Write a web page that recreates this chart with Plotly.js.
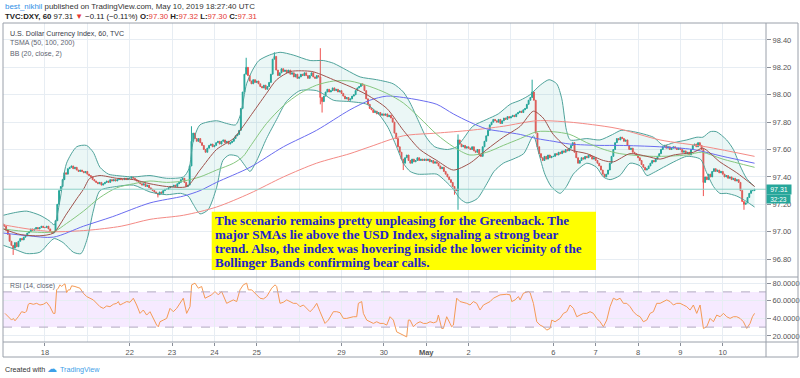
<!DOCTYPE html>
<html><head><meta charset="utf-8">
<script src="https://cdn.plot.ly/plotly-3.0.1.min.js"></script>
<style>html,body{margin:0;padding:0;background:#fff;}#chart{width:800px;height:378px;}</style>
</head><body><div id="chart"></div>
<script>
// ---- time axis: x = trading-day index (0 = Apr 17) + hour/24 ----
const dayTickVals = [1, 3, 4, 5, 6, 8, 9, 10, 11, 13, 14, 15, 16, 17];
const dayTickText = ['18', '22', '23', '24', '25', '29', '30', '<b>May</b>', '2', '6', '7', '8', '9', '10'];
const unlabeledDays = [2, 7, 12];

// ---- hourly closes (24 per trading day, last day to 18:00) ----
const firstOpen = 97.06;
const closes = [
 97.05,97.04,97.01,96.98,96.93,96.90,96.88,96.92,96.89,96.93,96.95,96.94,96.96,96.97,96.99,97.00,97.02,97.01,97.02,97.03,97.02,97.03,97.04,97.03,
 97.03,97.04,97.02,97.00,96.99,97.00,97.08,97.20,97.30,97.33,97.38,97.43,97.42,97.46,97.47,97.48,97.46,97.47,97.45,97.44,97.45,97.44,97.43,97.44,
 97.42,97.41,97.40,97.38,97.37,97.36,97.35,97.36,97.34,97.35,97.36,97.37,97.36,97.38,97.37,97.38,97.37,97.38,97.39,97.38,97.38,97.39,97.38,97.39,
 97.39,97.40,97.39,97.38,97.37,97.36,97.35,97.34,97.35,97.33,97.34,97.32,97.31,97.30,97.29,97.28,97.27,97.29,97.28,97.30,97.31,97.31,97.32,97.33,
 97.33,97.34,97.33,97.35,97.36,97.38,97.39,97.36,97.33,97.34,97.48,97.66,97.72,97.68,97.66,97.68,97.65,97.63,97.60,97.58,97.61,97.63,97.64,97.62,
 97.63,97.65,97.66,97.64,97.66,97.67,97.65,97.66,97.64,97.65,97.66,97.68,97.70,97.71,97.74,97.90,98.02,98.15,98.20,98.14,98.10,98.08,98.11,98.09,
 98.10,98.08,98.06,98.05,98.07,98.04,98.06,98.09,98.15,98.26,98.28,98.18,98.14,98.16,98.19,98.17,98.18,98.16,98.18,98.15,98.16,98.13,98.15,98.12,
 98.13,98.15,98.14,98.16,98.14,98.12,98.14,98.16,98.13,98.12,98.14,98.13,97.98,97.95,97.99,98.02,98.04,98.02,98.03,98.05,98.03,98.04,98.02,98.03,
 98.01,97.99,97.97,97.98,97.96,97.97,97.99,98.00,98.03,98.05,98.06,98.08,98.07,98.03,97.97,97.93,97.90,97.89,97.87,97.88,97.86,97.87,97.85,97.86,
 97.85,97.86,97.84,97.85,97.83,97.80,97.72,97.68,97.62,97.58,97.53,97.50,97.54,97.56,97.52,97.50,97.53,97.51,97.52,97.54,97.52,97.53,97.52,97.53,
 97.52,97.53,97.51,97.52,97.50,97.51,97.50,97.48,97.46,97.47,97.44,97.42,97.40,97.38,97.36,97.33,97.31,97.30,97.67,97.64,97.62,97.63,97.61,97.62,
 97.61,97.60,97.62,97.59,97.58,97.60,97.56,97.55,97.62,97.66,97.70,97.74,97.78,97.80,97.82,97.81,97.80,97.82,97.79,97.81,97.83,97.82,97.84,97.83,
 97.84,97.85,97.84,97.86,97.87,97.88,97.87,97.89,97.90,97.93,97.96,97.98,98.02,97.96,97.72,97.62,97.57,97.54,97.52,97.55,97.53,97.56,97.54,97.55,
 97.55,97.57,97.56,97.58,97.57,97.59,97.58,97.60,97.59,97.61,97.63,97.65,97.58,97.54,97.50,97.52,97.54,97.53,97.55,97.54,97.56,97.55,97.53,97.54,
 97.52,97.50,97.48,97.45,97.42,97.40,97.42,97.45,97.50,97.55,97.60,97.65,97.68,97.67,97.69,97.68,97.66,97.67,97.63,97.60,97.61,97.58,97.57,97.56,
 97.54,97.52,97.49,97.47,97.45,97.46,97.48,97.50,97.52,97.51,97.53,97.55,97.57,97.60,97.62,97.63,97.61,97.62,97.60,97.61,97.62,97.61,97.60,97.61,
 97.60,97.58,97.59,97.57,97.58,97.56,97.60,97.63,97.64,97.62,97.65,97.63,97.60,97.36,97.40,97.38,97.42,97.40,97.44,97.46,97.44,97.45,97.43,97.44,
 97.42,97.40,97.41,97.39,97.40,97.38,97.39,97.37,97.38,97.36,97.30,97.22,97.20,97.21,97.25,97.28,97.30,97.30,97.31
];
// notable wicks
const spikeDay  = [0, 3, 4, 5, 6, 7, 7, 9, 10, 10, 12, 16, 17];
const spikeHour = [6, 16, 11, 18, 10, 12, 13, 11, 16, 18, 12, 13, 12];
const spikeHigh = [null, null, 97.77, 98.27, 98.31, 98.34, null, null, null, 97.71, 98.11, null, null];
const spikeLow  = [96.83, 97.25, null, null, null, 97.93, 97.87, 97.45, 97.27, 97.16, null, 97.26, 97.16];

// ---- moving averages ----
const sma50Day = [0.02,0.6,1.2,1.51,1.91,2.3,2.69,3.09,3.48,3.87,4.27,4.66,5.05,5.45,5.68,5.84,6.23,6.63,7.02,7.41,7.81,8.2,8.67,9.07,9.46,9.85,10.25,10.64,11.03,11.43,11.82,12.22,12.61,13.0,13.39,13.79,14.2,14.57,15.36,16.15,16.5,17.0,17.75];
const sma50Val = [97.02,97.00,97.00,97.06,97.15,97.25,97.32,97.35,97.37,97.36,97.37,97.40,97.45,97.50,97.55,97.62,97.79,97.92,98.01,98.07,98.10,98.10,98.06,98.01,97.94,97.83,97.71,97.62,97.56,97.58,97.63,97.68,97.73,97.73,97.71,97.65,97.60,97.57,97.55,97.56,97.58,97.53,97.47];
const sma100Day = [0.02,0.6,1.2,1.91,2.6,3.48,4.27,4.66,5.05,5.84,6.63,7.41,8.2,8.67,9.07,9.46,9.85,10.25,10.64,11.03,11.43,11.82,12.22,12.61,13.0,13.39,14.1,14.57,15.5,16.3,17.0,17.75];
const sma100Val = [96.99,96.97,96.96,97.04,97.11,97.21,97.26,97.30,97.36,97.47,97.62,97.74,97.89,97.96,97.99,97.98,97.96,97.93,97.86,97.80,97.75,97.73,97.71,97.68,97.66,97.64,97.63,97.63,97.62,97.60,97.55,97.50];
const sma200Day = [0.02,0.6,1.2,2.0,2.8,3.48,4.27,5.05,5.84,6.63,7.41,8.2,8.67,9.46,10.25,11.03,11.82,12.61,13.39,14.2,14.57,15.52,16.6,17.75];
const sma200Val = [97.05,97.02,97.00,97.01,97.04,97.09,97.12,97.18,97.28,97.40,97.50,97.57,97.62,97.70,97.72,97.74,97.77,97.81,97.80,97.77,97.75,97.67,97.62,97.55];

// ---- Bollinger Bands (20, close, 2) ----
const bbUpperDay = [0.02,0.3,0.57,0.88,1.1,1.22,1.35,1.51,1.75,1.98,2.14,2.3,2.5,2.69,3.09,3.48,3.87,4.27,4.4,4.5,4.66,5.05,5.29,5.5,5.62,5.76,5.9,6.05,6.3,6.55,6.86,7.26,7.57,7.81,8.12,8.44,8.83,9.22,9.46,9.62,9.8,10.0,10.2,10.5,10.72,10.88,11.1,11.43,11.7,11.98,12.22,12.45,12.69,12.9,13.08,13.2,13.31,13.4,13.79,14.1,14.4,14.6,14.9,15.36,15.6,15.84,16.15,16.39,16.53,16.7,16.85,17.09,17.25,17.41,17.56,17.75];
const bbUpperVal = [97.12,97.14,97.15,97.12,97.08,97.05,97.22,97.50,97.62,97.63,97.58,97.47,97.42,97.41,97.40,97.41,97.39,97.40,97.46,97.66,97.78,97.81,97.79,97.78,97.86,98.08,98.18,98.25,98.29,98.31,98.29,98.25,98.25,98.23,98.18,98.13,98.11,98.08,98.02,97.94,97.82,97.69,97.62,97.60,97.62,97.68,97.77,97.82,97.86,97.93,97.96,98.00,98.07,98.11,98.08,97.97,97.74,97.67,97.68,97.67,97.71,97.74,97.73,97.69,97.63,97.65,97.67,97.69,97.69,97.73,97.73,97.67,97.60,97.48,97.39,97.33];
const bbLowerDay = [0.02,0.3,0.57,0.88,1.1,1.22,1.43,1.67,1.85,2.0,2.14,2.3,2.69,3.09,3.48,3.87,4.2,4.38,4.5,4.66,4.85,5.05,5.2,5.35,5.55,5.68,5.84,6.0,6.23,6.47,6.7,7.02,7.41,7.6,7.81,8.2,8.6,8.9,9.1,9.3,9.46,9.62,9.8,10.0,10.25,10.45,10.64,10.8,10.96,11.2,11.43,11.6,11.82,12.05,12.3,12.53,12.65,12.8,12.95,13.16,13.31,13.47,13.79,14.02,14.18,14.34,14.57,14.81,15.05,15.21,15.36,15.6,15.91,16.15,16.47,16.62,16.78,16.93,17.09,17.33,17.56,17.75];
const bbLowerVal = [96.90,96.87,96.84,96.85,96.92,96.95,96.92,96.85,96.84,96.95,97.15,97.30,97.33,97.34,97.29,97.27,97.28,97.26,97.20,97.13,97.16,97.32,97.52,97.56,97.55,97.50,97.44,97.52,97.68,97.82,97.95,98.03,98.03,98.00,97.96,97.95,97.93,97.85,97.76,97.62,97.50,97.44,97.42,97.42,97.42,97.37,97.31,97.24,97.21,97.24,97.35,97.44,97.50,97.53,97.57,97.70,97.58,97.42,97.33,97.28,97.33,97.42,97.50,97.47,97.40,97.38,97.41,97.50,97.48,97.41,97.43,97.47,97.52,97.55,97.53,97.43,97.33,97.28,97.28,97.26,97.22,97.18];
const bbBasisDay = [0.02,0.41,0.88,1.2,1.51,1.75,1.91,2.06,2.3,2.69,3.09,3.48,3.87,4.35,4.66,5.05,5.45,5.68,5.84,6.23,6.47,6.8,7.3,7.5,7.81,8.2,8.6,9.07,9.46,9.85,10.25,10.64,11.03,11.43,11.82,12.22,12.53,12.76,13.0,13.39,13.79,14.18,14.42,14.81,15.21,15.52,15.84,16.31,16.53,16.93,17.33,17.75];
const bbBasisVal = [97.02,96.98,96.97,96.99,97.13,97.24,97.31,97.39,97.41,97.39,97.38,97.35,97.33,97.33,97.45,97.60,97.68,97.77,97.84,98.01,98.11,98.17,98.17,98.15,98.11,98.06,98.00,97.90,97.74,97.60,97.52,97.45,97.50,97.60,97.69,97.77,97.88,97.83,97.71,97.60,97.57,97.52,97.51,97.57,97.55,97.53,97.56,97.58,97.61,97.51,97.43,97.33];

// ---- RSI (14, close) ----
const rsiDay = [0.057,0.135,0.214,0.253,0.293,0.371,0.45,0.529,0.568,0.607,0.647,0.725,0.804,0.883,0.961,1.04,1.119,1.197,1.237,1.276,1.315,1.355,1.394,1.433,1.473,1.512,1.551,1.591,1.63,1.709,1.827,1.906,1.985,2.063,2.142,2.299,2.378,2.457,2.535,2.614,2.693,2.732,2.771,2.85,2.929,3.007,3.086,3.165,3.244,3.322,3.401,3.48,3.558,3.637,3.676,3.716,3.795,3.873,3.952,4.03,4.109,4.188,4.266,4.345,4.424,4.463,4.542,4.621,4.699,4.778,4.857,4.935,5.014,5.093,5.171,5.289,5.368,5.447,5.526,5.604,5.683,5.762,5.801,5.88,5.998,6.077,6.155,6.234,6.352,6.431,6.47,6.549,6.627,6.706,6.785,6.864,6.942,7.021,7.1,7.178,7.257,7.336,7.415,7.493,7.572,7.611,7.69,7.808,7.887,7.965,8.044,8.123,8.28,8.359,8.398,8.477,8.516,8.595,8.673,8.752,8.831,8.91,8.988,9.067,9.146,9.224,9.303,9.382,9.46,9.539,9.578,9.618,9.697,9.775,9.854,9.933,10.011,10.09,10.169,10.247,10.287,10.365,10.405,10.483,10.562,10.601,10.641,10.72,10.798,10.956,11.034,11.113,11.192,11.27,11.349,11.428,11.507,11.585,11.664,11.743,11.9,11.979,12.018,12.097,12.176,12.215,12.294,12.373,12.412,12.451,12.53,12.609,12.687,12.766,12.845,12.923,12.963,13.041,13.159,13.238,13.317,13.395,13.474,13.553,13.631,13.71,13.789,13.867,13.946,14.025,14.103,14.182,14.261,14.339,14.418,14.497,14.575,14.654,14.733,14.812,14.89,14.969,15.048,15.126,15.205,15.284,15.362,15.441,15.52,15.677,15.756,15.834,15.913,15.992,16.07,16.149,16.228,16.306,16.385,16.464,16.543,16.621,16.7,16.779,16.857,16.936,17.015,17.093,17.172,17.251,17.329,17.408,17.487,17.565,17.644,17.7,17.75];
const rsiVal = [45.6,41.8,38.0,39.9,37.2,41.8,47.5,46.4,48.3,55.9,57.0,55.9,57.0,55.1,55.9,58.2,53.2,45.6,45.6,72.3,74.2,78.0,76.1,78.0,79.1,69.2,72.3,72.3,76.9,76.1,74.2,68.5,64.7,62.8,60.9,53.2,51.3,54.0,53.2,55.9,57.0,59.0,55.1,57.0,59.0,58.2,62.8,55.1,45.6,49.4,43.7,47.5,39.9,32.3,30.4,36.1,38.0,39.9,51.3,47.5,51.3,57.0,62.8,45.6,53.2,78.0,79.9,74.2,76.1,62.8,64.7,66.6,70.4,66.6,70.4,57.0,59.0,60.9,59.0,72.3,78.0,79.9,72.3,72.3,66.6,62.8,62.0,64.7,74.2,78.0,76.1,57.0,58.2,60.9,59.0,57.0,57.0,53.2,55.1,51.3,47.5,51.3,57.0,47.5,38.0,34.2,38.0,47.5,47.5,46.4,39.9,39.9,41.8,41.8,57.0,59.0,45.6,38.0,36.1,34.2,36.1,34.2,34.2,32.3,41.8,38.0,24.6,22.8,20.8,18.9,38.0,38.0,30.4,34.2,36.1,34.2,34.2,36.1,34.9,36.1,43.7,28.5,28.5,41.8,34.2,30.4,32.3,62.8,59.0,57.0,55.1,59.0,57.0,49.4,55.1,57.0,59.0,62.8,64.7,66.6,67.3,66.6,59.0,60.9,64.7,60.9,68.5,69.2,70.4,69.2,57.0,36.1,32.3,30.4,26.6,28.5,38.0,36.1,39.9,45.6,47.5,55.1,51.3,41.8,43.7,45.6,45.6,47.5,45.6,39.9,36.1,30.4,38.0,53.2,62.8,60.9,62.8,57.0,57.0,53.2,47.5,43.7,41.8,36.1,38.0,45.6,47.5,57.0,57.0,60.9,59.0,55.1,57.0,57.0,55.1,53.2,49.4,55.1,45.6,55.1,28.5,30.4,39.9,36.1,43.7,41.8,45.6,41.8,39.9,41.8,41.8,39.9,36.1,28.5,34.2,41.8,45.6];

const priceTicks = [96.8, 97.0, 97.2, 97.4, 97.6, 97.8, 98.0, 98.2, 98.4];
const rsiTicks = [20, 40, 60, 80];
const lastPrice = 97.31;
const noteLines = [
  'The scenario remains pretty unpleasing for the Greenback. The',
  'major SMAs lie above the USD Index, signaling a strong bear',
  'trend. Also, the index was hovering inside the lower vicinity of the',
  'Bollinger Bands confirming bear calls.'
];

// ---- build candles ----
const cx = [], co = [], ch = [], cl = [], cc = [];
let prev = firstOpen;
closes.forEach((v, i) => {
  cx.push(i / 24); co.push(prev); cc.push(v);
  ch.push(Math.max(prev, v)); cl.push(Math.min(prev, v)); prev = v;
});
spikeDay.forEach((d, k) => {
  const i = d * 24 + spikeHour[k];
  if (spikeHigh[k] !== null) ch[i] = Math.max(ch[i], spikeHigh[k]);
  if (spikeLow[k] !== null) cl[i] = Math.min(cl[i], spikeLow[k]);
});

const UP = '#26a69a', DN = '#ef5350';
const traces = [
  {type:'scatter', mode:'lines', x:bbUpperDay, y:bbUpperVal, line:{color:'#4fa39b', width:1, shape:'spline', smoothing:0.7}, hoverinfo:'skip'},
  {type:'scatter', mode:'lines', x:bbLowerDay, y:bbLowerVal, line:{color:'#4fa39b', width:1, shape:'spline', smoothing:0.7}, fill:'tonexty', fillcolor:'rgba(38,166,154,0.09)', hoverinfo:'skip'},
  {type:'candlestick', x:cx, open:co, high:ch, low:cl, close:cc,
   increasing:{line:{color:UP, width:1}, fillcolor:UP},
   decreasing:{line:{color:DN, width:1}, fillcolor:DN},
   whiskerwidth:0, hoverinfo:'skip'},
  {type:'scatter', mode:'lines', x:sma200Day, y:sma200Val, line:{color:'#f48a85', width:1, shape:'spline', smoothing:0.8}, hoverinfo:'skip'},
  {type:'scatter', mode:'lines', x:sma100Day, y:sma100Val, line:{color:'#6a6cf0', width:1, shape:'spline', smoothing:0.8}, hoverinfo:'skip'},
  {type:'scatter', mode:'lines', x:sma50Day, y:sma50Val, line:{color:'#86c77f', width:1, shape:'spline', smoothing:0.8}, hoverinfo:'skip'},
  {type:'scatter', mode:'lines', x:bbBasisDay, y:bbBasisVal, line:{color:'#a0524c', width:1, shape:'spline', smoothing:0.7}, hoverinfo:'skip'},
  {type:'scatter', mode:'lines', x:rsiDay, y:rsiVal, xaxis:'x', yaxis:'y2', line:{color:'#f59a55', width:1}, hoverinfo:'skip'}
];

// pixel helpers (plot area: x 3..766, y 23..342)
const PX = X => (X - 3) / 763;
const PY = Y => (342 - Y) / 319;
const SPLIT = PY(277);
const GRID = '#e7edf3';
const RED = '#e53935';
const UIF = 'Liberation Sans, Arial, sans-serif';

const ann = (X, Y, text, opts) => Object.assign({xref:'paper', yref:'paper', x:PX(X), y:PY(Y), xanchor:'left', yanchor:'middle', showarrow:false, text:text, font:{family:UIF, size:7, color:'#4c525e'}}, opts || {});
const serif = {family:'Liberation Serif, Times New Roman, serif', size:13.1, color:'#2222cc'};
const noteAnns = noteLines.map((t, k) => ann(213, 220 + k * 14.3, '<b>' + t + '</b>', {font:serif}));

const layout = {
  width:800, height:378,
  margin:{l:3, r:34, t:23, b:36, pad:0},
  paper_bgcolor:'#ffffff', plot_bgcolor:'#ffffff',
  showlegend:false,
  font:{family:UIF, size:7.5, color:'#4c525e'},
  xaxis:{range:[0.01, 18.02], anchor:'y2', tickmode:'array', tickvals:dayTickVals, ticktext:dayTickText,
    ticks:'outside', ticklen:3, tickcolor:'#8a8f99', showgrid:true, gridcolor:GRID, gridwidth:1,
    zeroline:false, showline:false, tickfont:{family:UIF, size:7.5, color:'#555'},
    minor:{tickmode:'array', tickvals:unlabeledDays, showgrid:true, gridcolor:GRID, ticks:''},
    rangeslider:{visible:false}, fixedrange:true},
  yaxis:{domain:[SPLIT, 1], range:[96.669, 98.524], side:'right', anchor:'x', tickmode:'array', tickvals:priceTicks,
    tickformat:'.2f', ticks:'outside', ticklen:4, tickcolor:'#8a8f99', showgrid:true, gridcolor:GRID,
    zeroline:false, showline:false, tickfont:{family:UIF, size:7.5, color:'#555'}, fixedrange:true},
  yaxis2:{domain:[0, SPLIT], range:[13.1, 86.9], side:'right', anchor:'x', tickmode:'array', tickvals:rsiTicks,
    tickformat:'.4f', ticks:'outside', ticklen:4, tickcolor:'#8a8f99', showgrid:true, gridcolor:GRID,
    zeroline:false, showline:false, tickfont:{family:UIF, size:7.5, color:'#555'}, fixedrange:true},
  shapes:[
    {type:'rect', xref:'paper', yref:'y2', x0:0, x1:1, y0:30, y1:70, fillcolor:'rgba(153,21,255,0.09)', line:{width:0}, layer:'below'},
    {type:'line', xref:'paper', yref:'y2', x0:0, x1:1, y0:70, y1:70, line:{color:'#b3a8c2', width:1, dash:'dash'}},
    {type:'line', xref:'paper', yref:'y2', x0:0, x1:1, y0:30, y1:30, line:{color:'#b3a8c2', width:1, dash:'dash'}},
    {type:'line', xref:'paper', yref:'y', x0:0, x1:1, y0:lastPrice, y1:lastPrice, line:{color:'#8fd1c8', width:1}},
    {type:'rect', xref:'paper', yref:'paper', x0:PX(211.7), x1:PX(596), y0:PY(270), y1:PY(211.7), fillcolor:'#ffff00', line:{width:0}},
    {type:'line', xref:'paper', yref:'paper', x0:0, x1:PX(798), y0:SPLIT, y1:SPLIT, line:{color:'#9aa0aa', width:1}},
    {type:'line', xref:'paper', yref:'paper', x0:0, x1:PX(798), y0:0, y1:0, line:{color:'#9aa0aa', width:1}},
    {type:'line', xref:'paper', yref:'paper', x0:1, x1:1, y0:PY(357), y1:1, line:{color:'#9aa0aa', width:1}},
    {type:'rect', xref:'paper', yref:'paper', x0:0, x1:PX(798), y0:PY(357), y1:1, line:{color:'#9aa0aa', width:1}, fillcolor:'rgba(0,0,0,0)'}
  ],
  annotations:[
    ann(3, 7, '<span style="color:#2e8fe6">best_nikhil</span> published on TradingView.com, May 10, 2019 18:27:40 UTC', {font:{family:UIF, size:7.9, color:'#333'}}),
    ann(3, 16.5, '<b>TVC:DXY, 60</b> 97.31 <span style="color:' + RED + '">▼</span> −0.11 (−0.11%) <b>O:</b><span style="color:' + RED + '">97.30</span> <b>H:</b><span style="color:' + RED + '">97.32</span> <b>L:</b><span style="color:' + RED + '">97.30</span> <b>C:</b><span style="color:' + RED + '">97.31</span>', {font:{family:UIF, size:7.8, color:'#222'}}),
    ann(8, 33.5, 'U.S. Dollar Currency Index, 60, TVC', {font:{family:UIF, size:7.1, color:'#3a404b'}}),
    ann(8, 43.5, 'TSMA (50, 100, 200)', {font:{family:UIF, size:7, color:'#5d6370'}}),
    ann(8, 53.5, 'BB (20, close, 2)', {font:{family:UIF, size:7, color:'#5d6370'}}),
    ann(8, 286, 'RSI (14, close)', {font:{family:UIF, size:6.8, color:'#5d6370'}}),
    ...noteAnns,
    {xref:'paper', yref:'y', x:1, y:lastPrice, xanchor:'left', yanchor:'middle', showarrow:false, text:'97.31', bgcolor:UP, borderpad:1, width:22, font:{family:UIF, size:7, color:'#fff'}},
    {xref:'paper', yref:'y', x:1, y:lastPrice, yshift:-9.5, xanchor:'left', yanchor:'middle', showarrow:false, text:'32:23', bgcolor:UP, borderpad:0.5, width:22, font:{family:UIF, size:6.5, color:'#fff'}},
    ann(3, 369, 'Created with', {font:{family:UIF, size:7.2, color:'#333'}}),
    ann(45, 368, '☁', {font:{family:'DejaVu Sans', size:10, color:'#3ea0e8'}}),
    ann(58, 369, 'TradingView', {font:{family:UIF, size:7.2, color:'#3ea0e8'}})
  ]
};

Plotly.newPlot('chart', traces, layout, {staticPlot:true, displayModeBar:false});
</script>
</body></html>
